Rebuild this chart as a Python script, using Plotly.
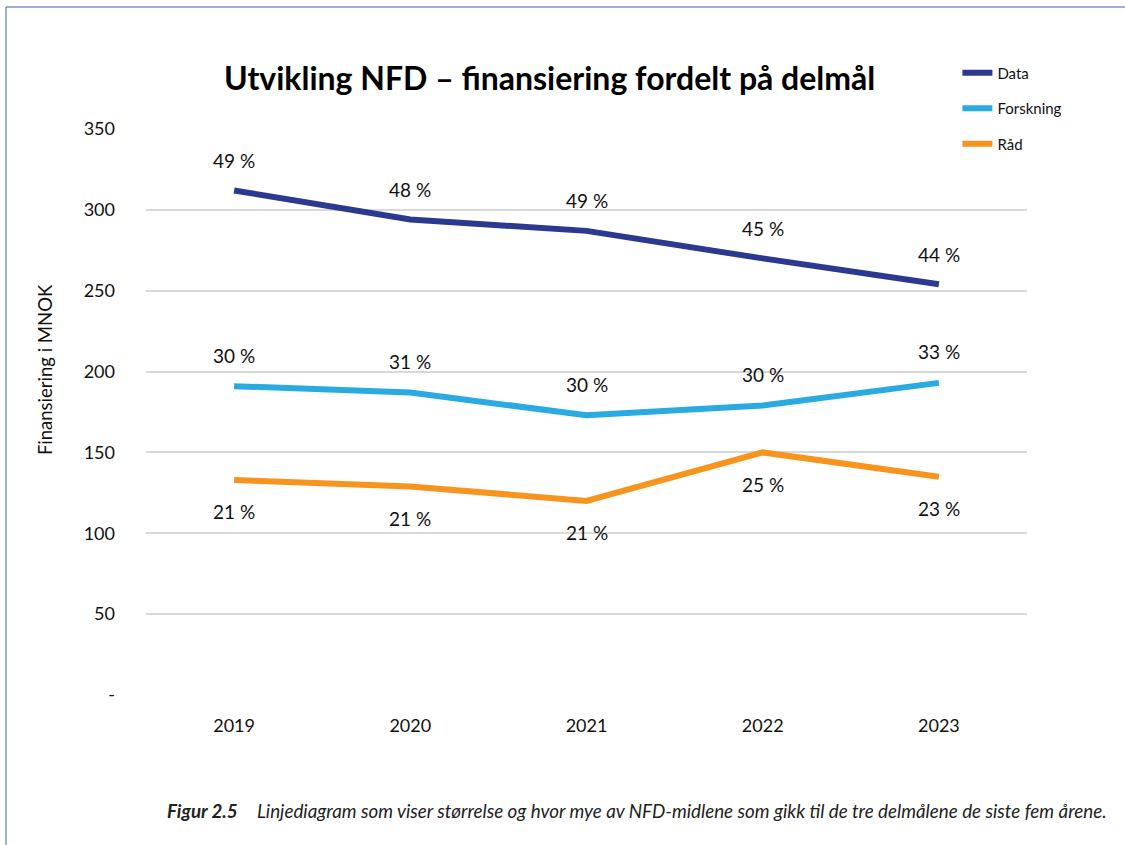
import plotly.graph_objects as go

years = ["2019", "2020", "2021", "2022", "2023"]
data_vals = [312, 294, 287, 270, 254]
forskning_vals = [191, 187, 173, 179, 193]
raad_vals = [133, 129, 120, 150, 135]
data_pct = ["49 %", "48 %", "49 %", "45 %", "44 %"]
forskning_pct = ["30 %", "31 %", "30 %", "30 %", "33 %"]
raad_pct = ["21 %", "21 %", "21 %", "25 %", "23 %"]
y_tickvals = [0, 50, 100, 150, 200, 250, 300, 350]
y_ticktext = ["-", "50", "100", "150", "200", "250", "300", "350"]

FONT = "Lato"
series = [
    ("Data", data_vals, data_pct, "#2B3990", 30),
    ("Forskning", forskning_vals, forskning_pct, "#29ABE2", 31),
    ("Råd", raad_vals, raad_pct, "#F7941E", -32),
]

fig = go.Figure()
annotations = []
for name, vals, pct, color, shift in series:
    fig.add_trace(go.Scatter(
        x=years, y=vals, mode="lines", name=name,
        line=dict(color=color, width=6), legendgroup=name,
        hoverinfo="skip",
    ))
    # category axis: annotation x given as the category index
    for idx, (v, t) in enumerate(zip(vals, pct)):
        annotations.append(dict(
            x=idx, y=v, xref="x", yref="y", text=t, showarrow=False,
            yshift=shift, font=dict(family=FONT, size=19, color="#111111"),
        ))

annotations.append(dict(
    x=(45 - 146) / 881, y=0.574, xref="paper", yref="paper", text="Finansiering i MNOK",
    xanchor="center", yanchor="middle",
    textangle=-90, showarrow=False, font=dict(family=FONT, size=18.5, color="#111111"),
))
annotations.append(dict(
    x=(549 - 146) / 881, y=(695 - 77) / 566, xref="paper", yref="paper",
    xanchor="center", yanchor="middle",
    text="<b>Utvikling NFD – finansiering fordelt på delmål</b>",
    showarrow=False, font=dict(family=FONT, size=32, color="#000000"),
))
annotations.append(dict(
    x=(165 - 146) / 881, y=(695 - 810) / 566, xref="paper", yref="paper",
    xanchor="left", yanchor="middle",
    text="<b><i>Figur 2.5</i></b>&nbsp;&nbsp;&nbsp;&nbsp;<i>Linjediagram som viser størrelse og hvor mye av NFD-midlene som gikk til de tre delmålene de siste fem årene.</i>",
    showarrow=False, font=dict(family=FONT, size=18.8, color="#222222"),
))

fig.update_layout(
    width=1125, height=845,
    margin=dict(l=146, r=98, t=129, b=150),
    paper_bgcolor="white", plot_bgcolor="white",
    font=dict(family=FONT, size=18, color="#111111"),
    showlegend=True,
    legend=dict(
        x=0.921, y=1.128, xanchor="left", yanchor="top",
        font=dict(family=FONT, size=15, color="#111111"),
        tracegroupgap=13, bgcolor="rgba(0,0,0,0)",
        itemwidth=30,
    ),
    annotations=annotations,
    shapes=[dict(
        type="rect", xref="paper", yref="paper",
        x0=(6 - 146) / 881, x1=1.3, y0=-0.6, y1=(695 - 7) / 566,
        line=dict(color="#3F63A8", width=1), fillcolor="rgba(0,0,0,0)",
        layer="below",
    )],
)
fig.update_xaxes(
    type="category", range=[-0.5, len(years) - 0.5],
    showgrid=False, showline=False, zeroline=False,
    ticks="", ticklabelstandoff=18,
    tickfont=dict(family=FONT, size=18, color="#111111"),
)
fig.update_yaxes(
    range=[0, 350], tickvals=y_tickvals, ticktext=y_ticktext,
    showgrid=True, gridcolor="#D9D9D9", gridwidth=1.5,
    zeroline=False, showline=False, ticks="", ticklabelstandoff=30,
    tickfont=dict(family=FONT, size=18, color="#111111"),
)

fig.write_html("out.html", config={"displayModeBar": False},
               post_script="document.body.style.margin='0';")
